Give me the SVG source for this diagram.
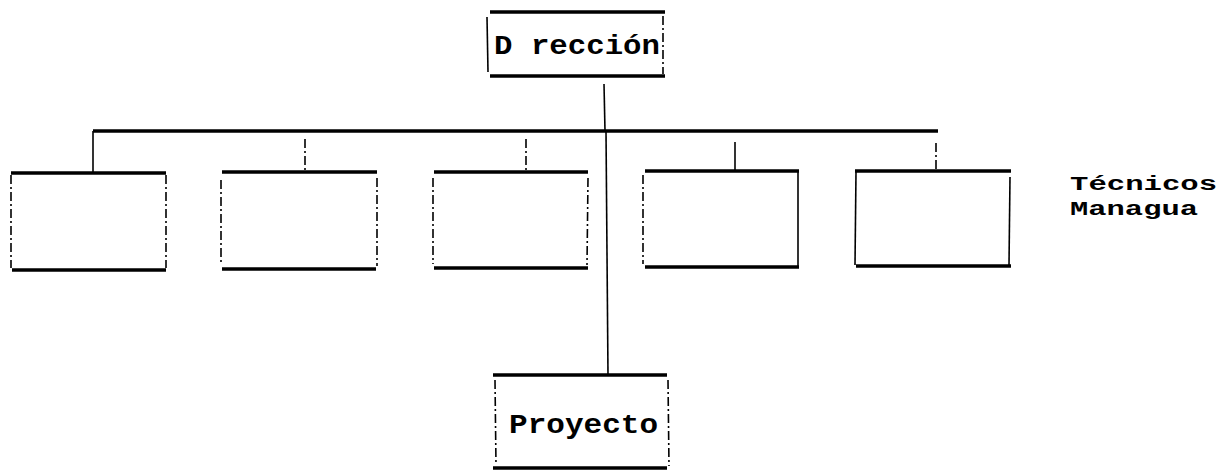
<svg xmlns="http://www.w3.org/2000/svg" width="1220" height="472" viewBox="0 0 1220 472">
<style>
.h{stroke:#000;stroke-width:3.5;fill:none;stroke-linecap:butt}
.v{stroke:#000;stroke-width:1.6;fill:none}
.vd{stroke:#000;stroke-width:1.6;fill:none;stroke-dasharray:9 3 2 3}
.c{stroke:#000;stroke-width:1.6;fill:none}
.t{font-family:"Liberation Mono","Courier New",monospace;font-weight:bold;fill:#000}
</style>
<rect width="1220" height="472" fill="#fff"/>
<g id="connectors">
<line class="h" x1="93" y1="131" x2="938" y2="131"/>
<line class="c" x1="604" y1="84" x2="605" y2="131"/>
<line class="c" x1="606" y1="131" x2="608" y2="375"/>
<line class="c" x1="93" y1="131" x2="93" y2="172"/>
<line class="vd" x1="305" y1="139" x2="305" y2="170"/>
<line class="vd" x1="526" y1="139" x2="526" y2="170"/>
<line class="c" x1="735" y1="142" x2="735" y2="171"/>
<line class="vd" x1="936" y1="143" x2="936" y2="170"/>
</g>
<g id="direccion">
<line class="h" x1="490" y1="12" x2="665" y2="12"/>
<line class="h" x1="490" y1="76" x2="665" y2="76"/>
<line class="v" x1="487" y1="17" x2="488" y2="72"/>
<line class="vd" x1="663" y1="16" x2="663" y2="74"/>
<text class="t" x="494" y="54" font-size="28" textLength="166" lengthAdjust="spacingAndGlyphs">D rección</text>
</g>
<g id="box1">
<line class="h" x1="11" y1="173" x2="166" y2="173"/>
<line class="h" x1="12" y1="270" x2="166" y2="270"/>
<line class="vd" x1="11" y1="175" x2="11" y2="268"/>
<line class="vd" x1="166" y1="175" x2="166" y2="268"/>
</g>
<g id="box2">
<line class="h" x1="222" y1="172" x2="377" y2="172"/>
<line class="h" x1="222" y1="269" x2="376" y2="269"/>
<line class="vd" x1="221" y1="180" x2="221" y2="263"/>
<line class="vd" x1="377" y1="178" x2="377" y2="266"/>
</g>
<g id="box3">
<line class="h" x1="434" y1="172" x2="588" y2="172"/>
<line class="h" x1="434" y1="268" x2="588" y2="268"/>
<line class="vd" x1="433" y1="178" x2="433" y2="264"/>
<line class="vd" x1="588" y1="178" x2="587" y2="265"/>
</g>
<g id="box4">
<line class="h" x1="645" y1="171" x2="799" y2="171"/>
<line class="h" x1="645" y1="267" x2="799" y2="267"/>
<line class="vd" x1="643" y1="175" x2="643" y2="264"/>
<line class="v" x1="798" y1="171" x2="798" y2="267"/>
</g>
<g id="box5">
<line class="h" x1="855" y1="171" x2="1011" y2="171"/>
<line class="h" x1="856" y1="266" x2="1011" y2="266"/>
<line class="v" x1="856" y1="172" x2="855" y2="265"/>
<line class="v" x1="1010" y1="177" x2="1009" y2="265"/>
</g>
<g id="tecnicos">
<text class="t" x="1070" y="190" font-size="20" textLength="147" lengthAdjust="spacingAndGlyphs">Técnicos</text>
<text class="t" x="1070" y="215" font-size="20" textLength="128" lengthAdjust="spacingAndGlyphs">Managua</text>
</g>
<g id="proyecto">
<line class="h" x1="493" y1="375" x2="667" y2="375"/>
<line class="h" x1="493" y1="468" x2="667" y2="468"/>
<line class="vd" x1="495" y1="380" x2="496" y2="465"/>
<line class="vd" x1="668" y1="380" x2="669" y2="466"/>
<text class="t" x="509" y="433" font-size="28" textLength="149" lengthAdjust="spacingAndGlyphs">Proyecto</text>
</g>
</svg>
